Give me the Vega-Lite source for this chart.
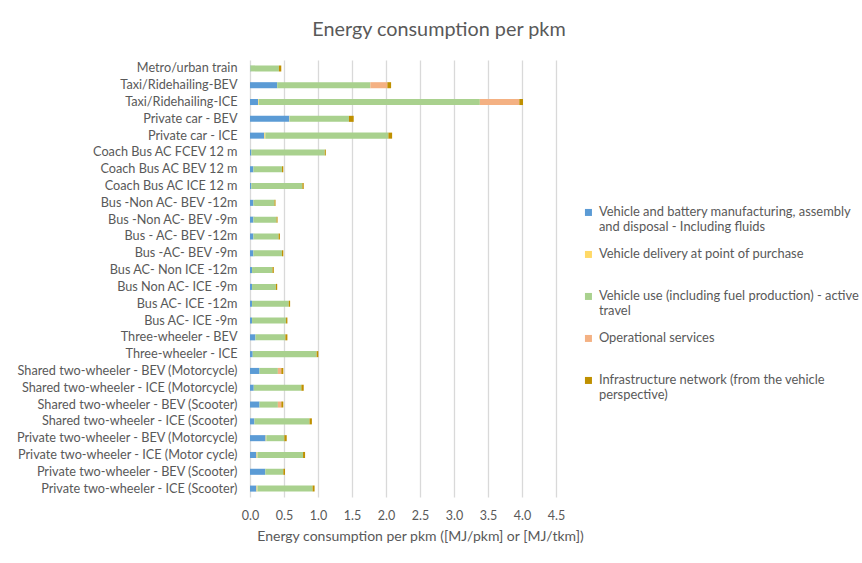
{
  "$schema": "https://vega.github.io/schema/vega-lite/v6.json",
  "autosize": {"type": "none"},
  "width": 306,
  "height": 437,
  "padding": {"left": 250, "top": 60, "right": 306, "bottom": 66},
  "background": "white",
  "config": {
    "font": "Lato",
    "view": {"stroke": null},
    "axis": {"labelColor": "#595959", "titleColor": "#595959", "labelFont": "Lato", "titleFont": "Lato", "titleFontWeight": "normal"}
  },
  "title": {"text": "Energy consumption per pkm", "fontSize": 19.8, "font": "Lato", "fontWeight": "normal", "color": "#595959", "anchor": "middle", "dx": 36, "offset": 20},
  "data": {"values": [
    {"m": "Metro/urban train", "c": "Vehicle and battery manufacturing, assembly and disposal - Including fluids", "k": 1, "v": 0.005},
    {"m": "Metro/urban train", "c": "Vehicle use (including fuel production) - active travel", "k": 3, "v": 0.42},
    {"m": "Metro/urban train", "c": "Infrastructure network (from the vehicle perspective)", "k": 5, "v": 0.035},
    {"m": "Taxi/Ridehailing-BEV", "c": "Vehicle and battery manufacturing, assembly and disposal - Including fluids", "k": 1, "v": 0.40},
    {"m": "Taxi/Ridehailing-BEV", "c": "Vehicle use (including fuel production) - active travel", "k": 3, "v": 1.37},
    {"m": "Taxi/Ridehailing-BEV", "c": "Operational services", "k": 4, "v": 0.25},
    {"m": "Taxi/Ridehailing-BEV", "c": "Infrastructure network (from the vehicle perspective)", "k": 5, "v": 0.055},
    {"m": "Taxi/Ridehailing-ICE", "c": "Vehicle and battery manufacturing, assembly and disposal - Including fluids", "k": 1, "v": 0.12},
    {"m": "Taxi/Ridehailing-ICE", "c": "Vehicle delivery at point of purchase", "k": 2, "v": 0.01},
    {"m": "Taxi/Ridehailing-ICE", "c": "Vehicle use (including fuel production) - active travel", "k": 3, "v": 3.25},
    {"m": "Taxi/Ridehailing-ICE", "c": "Operational services", "k": 4, "v": 0.58},
    {"m": "Taxi/Ridehailing-ICE", "c": "Infrastructure network (from the vehicle perspective)", "k": 5, "v": 0.055},
    {"m": "Private car - BEV", "c": "Vehicle and battery manufacturing, assembly and disposal - Including fluids", "k": 1, "v": 0.58},
    {"m": "Private car - BEV", "c": "Vehicle delivery at point of purchase", "k": 2, "v": 0.005},
    {"m": "Private car - BEV", "c": "Vehicle use (including fuel production) - active travel", "k": 3, "v": 0.87},
    {"m": "Private car - BEV", "c": "Infrastructure network (from the vehicle perspective)", "k": 5, "v": 0.07},
    {"m": "Private car - ICE", "c": "Vehicle and battery manufacturing, assembly and disposal - Including fluids", "k": 1, "v": 0.21},
    {"m": "Private car - ICE", "c": "Vehicle delivery at point of purchase", "k": 2, "v": 0.015},
    {"m": "Private car - ICE", "c": "Vehicle use (including fuel production) - active travel", "k": 3, "v": 1.81},
    {"m": "Private car - ICE", "c": "Infrastructure network (from the vehicle perspective)", "k": 5, "v": 0.055},
    {"m": "Coach Bus AC FCEV 12 m", "c": "Vehicle and battery manufacturing, assembly and disposal - Including fluids", "k": 1, "v": 0.02},
    {"m": "Coach Bus AC FCEV 12 m", "c": "Vehicle use (including fuel production) - active travel", "k": 3, "v": 1.08},
    {"m": "Coach Bus AC FCEV 12 m", "c": "Infrastructure network (from the vehicle perspective)", "k": 5, "v": 0.015},
    {"m": "Coach Bus AC BEV 12 m", "c": "Vehicle and battery manufacturing, assembly and disposal - Including fluids", "k": 1, "v": 0.05},
    {"m": "Coach Bus AC BEV 12 m", "c": "Vehicle use (including fuel production) - active travel", "k": 3, "v": 0.42},
    {"m": "Coach Bus AC BEV 12 m", "c": "Infrastructure network (from the vehicle perspective)", "k": 5, "v": 0.02},
    {"m": "Coach Bus AC ICE 12 m", "c": "Vehicle and battery manufacturing, assembly and disposal - Including fluids", "k": 1, "v": 0.02},
    {"m": "Coach Bus AC ICE 12 m", "c": "Vehicle use (including fuel production) - active travel", "k": 3, "v": 0.75},
    {"m": "Coach Bus AC ICE 12 m", "c": "Infrastructure network (from the vehicle perspective)", "k": 5, "v": 0.02},
    {"m": "Bus -Non AC- BEV -12m", "c": "Vehicle and battery manufacturing, assembly and disposal - Including fluids", "k": 1, "v": 0.05},
    {"m": "Bus -Non AC- BEV -12m", "c": "Vehicle use (including fuel production) - active travel", "k": 3, "v": 0.31},
    {"m": "Bus -Non AC- BEV -12m", "c": "Infrastructure network (from the vehicle perspective)", "k": 5, "v": 0.015},
    {"m": "Bus -Non AC- BEV -9m", "c": "Vehicle and battery manufacturing, assembly and disposal - Including fluids", "k": 1, "v": 0.05},
    {"m": "Bus -Non AC- BEV -9m", "c": "Vehicle use (including fuel production) - active travel", "k": 3, "v": 0.34},
    {"m": "Bus -Non AC- BEV -9m", "c": "Infrastructure network (from the vehicle perspective)", "k": 5, "v": 0.015},
    {"m": "Bus - AC- BEV -12m", "c": "Vehicle and battery manufacturing, assembly and disposal - Including fluids", "k": 1, "v": 0.05},
    {"m": "Bus - AC- BEV -12m", "c": "Vehicle use (including fuel production) - active travel", "k": 3, "v": 0.37},
    {"m": "Bus - AC- BEV -12m", "c": "Infrastructure network (from the vehicle perspective)", "k": 5, "v": 0.02},
    {"m": "Bus -AC- BEV -9m", "c": "Vehicle and battery manufacturing, assembly and disposal - Including fluids", "k": 1, "v": 0.05},
    {"m": "Bus -AC- BEV -9m", "c": "Vehicle use (including fuel production) - active travel", "k": 3, "v": 0.42},
    {"m": "Bus -AC- BEV -9m", "c": "Infrastructure network (from the vehicle perspective)", "k": 5, "v": 0.02},
    {"m": "Bus AC- Non ICE -12m", "c": "Vehicle and battery manufacturing, assembly and disposal - Including fluids", "k": 1, "v": 0.03},
    {"m": "Bus AC- Non ICE -12m", "c": "Vehicle use (including fuel production) - active travel", "k": 3, "v": 0.30},
    {"m": "Bus AC- Non ICE -12m", "c": "Infrastructure network (from the vehicle perspective)", "k": 5, "v": 0.02},
    {"m": "Bus Non  AC- ICE -9m", "c": "Vehicle and battery manufacturing, assembly and disposal - Including fluids", "k": 1, "v": 0.03},
    {"m": "Bus Non  AC- ICE -9m", "c": "Vehicle use (including fuel production) - active travel", "k": 3, "v": 0.35},
    {"m": "Bus Non  AC- ICE -9m", "c": "Infrastructure network (from the vehicle perspective)", "k": 5, "v": 0.02},
    {"m": "Bus AC- ICE -12m", "c": "Vehicle and battery manufacturing, assembly and disposal - Including fluids", "k": 1, "v": 0.03},
    {"m": "Bus AC- ICE -12m", "c": "Vehicle use (including fuel production) - active travel", "k": 3, "v": 0.54},
    {"m": "Bus AC- ICE -12m", "c": "Infrastructure network (from the vehicle perspective)", "k": 5, "v": 0.02},
    {"m": "Bus  AC- ICE -9m", "c": "Vehicle and battery manufacturing, assembly and disposal - Including fluids", "k": 1, "v": 0.03},
    {"m": "Bus  AC- ICE -9m", "c": "Vehicle use (including fuel production) - active travel", "k": 3, "v": 0.50},
    {"m": "Bus  AC- ICE -9m", "c": "Infrastructure network (from the vehicle perspective)", "k": 5, "v": 0.02},
    {"m": "Three-wheeler - BEV", "c": "Vehicle and battery manufacturing, assembly and disposal - Including fluids", "k": 1, "v": 0.08},
    {"m": "Three-wheeler - BEV", "c": "Vehicle use (including fuel production) - active travel", "k": 3, "v": 0.44},
    {"m": "Three-wheeler - BEV", "c": "Infrastructure network (from the vehicle perspective)", "k": 5, "v": 0.03},
    {"m": "Three-wheeler - ICE", "c": "Vehicle and battery manufacturing, assembly and disposal - Including fluids", "k": 1, "v": 0.04},
    {"m": "Three-wheeler - ICE", "c": "Vehicle use (including fuel production) - active travel", "k": 3, "v": 0.94},
    {"m": "Three-wheeler - ICE", "c": "Infrastructure network (from the vehicle perspective)", "k": 5, "v": 0.025},
    {"m": "Shared two-wheeler - BEV (Motorcycle)", "c": "Vehicle and battery manufacturing, assembly and disposal - Including fluids", "k": 1, "v": 0.14},
    {"m": "Shared two-wheeler - BEV (Motorcycle)", "c": "Vehicle use (including fuel production) - active travel", "k": 3, "v": 0.27},
    {"m": "Shared two-wheeler - BEV (Motorcycle)", "c": "Operational services", "k": 4, "v": 0.05},
    {"m": "Shared two-wheeler - BEV (Motorcycle)", "c": "Infrastructure network (from the vehicle perspective)", "k": 5, "v": 0.03},
    {"m": "Shared two-wheeler - ICE (Motorcycle)", "c": "Vehicle and battery manufacturing, assembly and disposal - Including fluids", "k": 1, "v": 0.055},
    {"m": "Shared two-wheeler - ICE (Motorcycle)", "c": "Vehicle use (including fuel production) - active travel", "k": 3, "v": 0.70},
    {"m": "Shared two-wheeler - ICE (Motorcycle)", "c": "Infrastructure network (from the vehicle perspective)", "k": 5, "v": 0.035},
    {"m": "Shared two-wheeler - BEV (Scooter)", "c": "Vehicle and battery manufacturing, assembly and disposal - Including fluids", "k": 1, "v": 0.14},
    {"m": "Shared two-wheeler - BEV (Scooter)", "c": "Vehicle use (including fuel production) - active travel", "k": 3, "v": 0.27},
    {"m": "Shared two-wheeler - BEV (Scooter)", "c": "Operational services", "k": 4, "v": 0.05},
    {"m": "Shared two-wheeler - BEV (Scooter)", "c": "Infrastructure network (from the vehicle perspective)", "k": 5, "v": 0.03},
    {"m": "Shared two-wheeler - ICE (Scooter)", "c": "Vehicle and battery manufacturing, assembly and disposal - Including fluids", "k": 1, "v": 0.065},
    {"m": "Shared two-wheeler - ICE (Scooter)", "c": "Vehicle use (including fuel production) - active travel", "k": 3, "v": 0.81},
    {"m": "Shared two-wheeler - ICE (Scooter)", "c": "Infrastructure network (from the vehicle perspective)", "k": 5, "v": 0.035},
    {"m": "Private two-wheeler - BEV (Motorcycle)", "c": "Vehicle and battery manufacturing, assembly and disposal - Including fluids", "k": 1, "v": 0.23},
    {"m": "Private two-wheeler - BEV (Motorcycle)", "c": "Vehicle delivery at point of purchase", "k": 2, "v": 0.01},
    {"m": "Private two-wheeler - BEV (Motorcycle)", "c": "Vehicle use (including fuel production) - active travel", "k": 3, "v": 0.265},
    {"m": "Private two-wheeler - BEV (Motorcycle)", "c": "Infrastructure network (from the vehicle perspective)", "k": 5, "v": 0.035},
    {"m": "Private two-wheeler - ICE (Motor cycle)", "c": "Vehicle and battery manufacturing, assembly and disposal - Including fluids", "k": 1, "v": 0.095},
    {"m": "Private two-wheeler - ICE (Motor cycle)", "c": "Vehicle delivery at point of purchase", "k": 2, "v": 0.015},
    {"m": "Private two-wheeler - ICE (Motor cycle)", "c": "Vehicle use (including fuel production) - active travel", "k": 3, "v": 0.67},
    {"m": "Private two-wheeler - ICE (Motor cycle)", "c": "Infrastructure network (from the vehicle perspective)", "k": 5, "v": 0.03},
    {"m": "Private two-wheeler - BEV (Scooter)", "c": "Vehicle and battery manufacturing, assembly and disposal - Including fluids", "k": 1, "v": 0.225},
    {"m": "Private two-wheeler - BEV (Scooter)", "c": "Vehicle use (including fuel production) - active travel", "k": 3, "v": 0.265},
    {"m": "Private two-wheeler - BEV (Scooter)", "c": "Infrastructure network (from the vehicle perspective)", "k": 5, "v": 0.025},
    {"m": "Private two-wheeler - ICE (Scooter)", "c": "Vehicle and battery manufacturing, assembly and disposal - Including fluids", "k": 1, "v": 0.095},
    {"m": "Private two-wheeler - ICE (Scooter)", "c": "Vehicle delivery at point of purchase", "k": 2, "v": 0.015},
    {"m": "Private two-wheeler - ICE (Scooter)", "c": "Vehicle use (including fuel production) - active travel", "k": 3, "v": 0.81},
    {"m": "Private two-wheeler - ICE (Scooter)", "c": "Infrastructure network (from the vehicle perspective)", "k": 5, "v": 0.03}
  ]},
  "mark": {"type": "bar"},
  "encoding": {
    "y": {
      "field": "m", "type": "nominal", "sort": null,
      "scale": {"paddingInner": 0.64, "paddingOuter": 0.32},
      "axis": {"title": null, "domain": false, "ticks": false, "labelFontSize": 12.7, "labelPadding": 13, "labelLimit": 300}
    },
    "x": {
      "field": "v", "type": "quantitative", "stack": "zero",
      "scale": {"domain": [0, 4.5], "nice": false},
      "axis": {
        "title": "Energy consumption per pkm ([MJ/pkm] or [MJ/tkm])",
        "values": [0, 0.5, 1, 1.5, 2, 2.5, 3, 3.5, 4, 4.5],
        "format": ".1f", "domain": false, "ticks": false, "labelFlush": false,
        "grid": true, "gridColor": "#D9D9D9", "gridWidth": 1.3,
        "labelFontSize": 12.5, "labelPadding": 12, "titleFontSize": 14, "titlePadding": 8, "titleX": 170
      }
    },
    "color": {
      "field": "c", "type": "nominal",
      "scale": {
        "domain": [
          "Vehicle and battery manufacturing, assembly and disposal - Including fluids",
          "Vehicle delivery at point of purchase",
          "Vehicle use (including fuel production) - active travel",
          "Operational services",
          "Infrastructure network (from the vehicle perspective)"
        ],
        "range": ["#5B9BD5", "#FFD966", "#A9D18E", "#F4B183", "#BF9000"]
      },
      "legend": {
        "title": null, "orient": "none", "legendX": 332, "legendY": 146,
        "symbolType": "square", "symbolSize": 49, "symbolStrokeWidth": 0,
        "labelFontSize": 12.9, "labelColor": "#595959", "labelLimit": 300, "labelFont": "Lato",
        "rowPadding": 13, "labelOffset": 4,
        "labelExpr": "datum.label == 'Vehicle and battery manufacturing, assembly and disposal - Including fluids' ? ['Vehicle and battery manufacturing, assembly', 'and disposal - Including fluids'] : datum.label == 'Vehicle use (including fuel production) - active travel' ? ['Vehicle use (including fuel production) - active', 'travel'] : datum.label == 'Infrastructure network (from the vehicle perspective)' ? ['Infrastructure network (from the vehicle', 'perspective)'] : [datum.label, ' ']"
      }
    },
    "order": {"field": "k", "type": "quantitative"}
  }
}
